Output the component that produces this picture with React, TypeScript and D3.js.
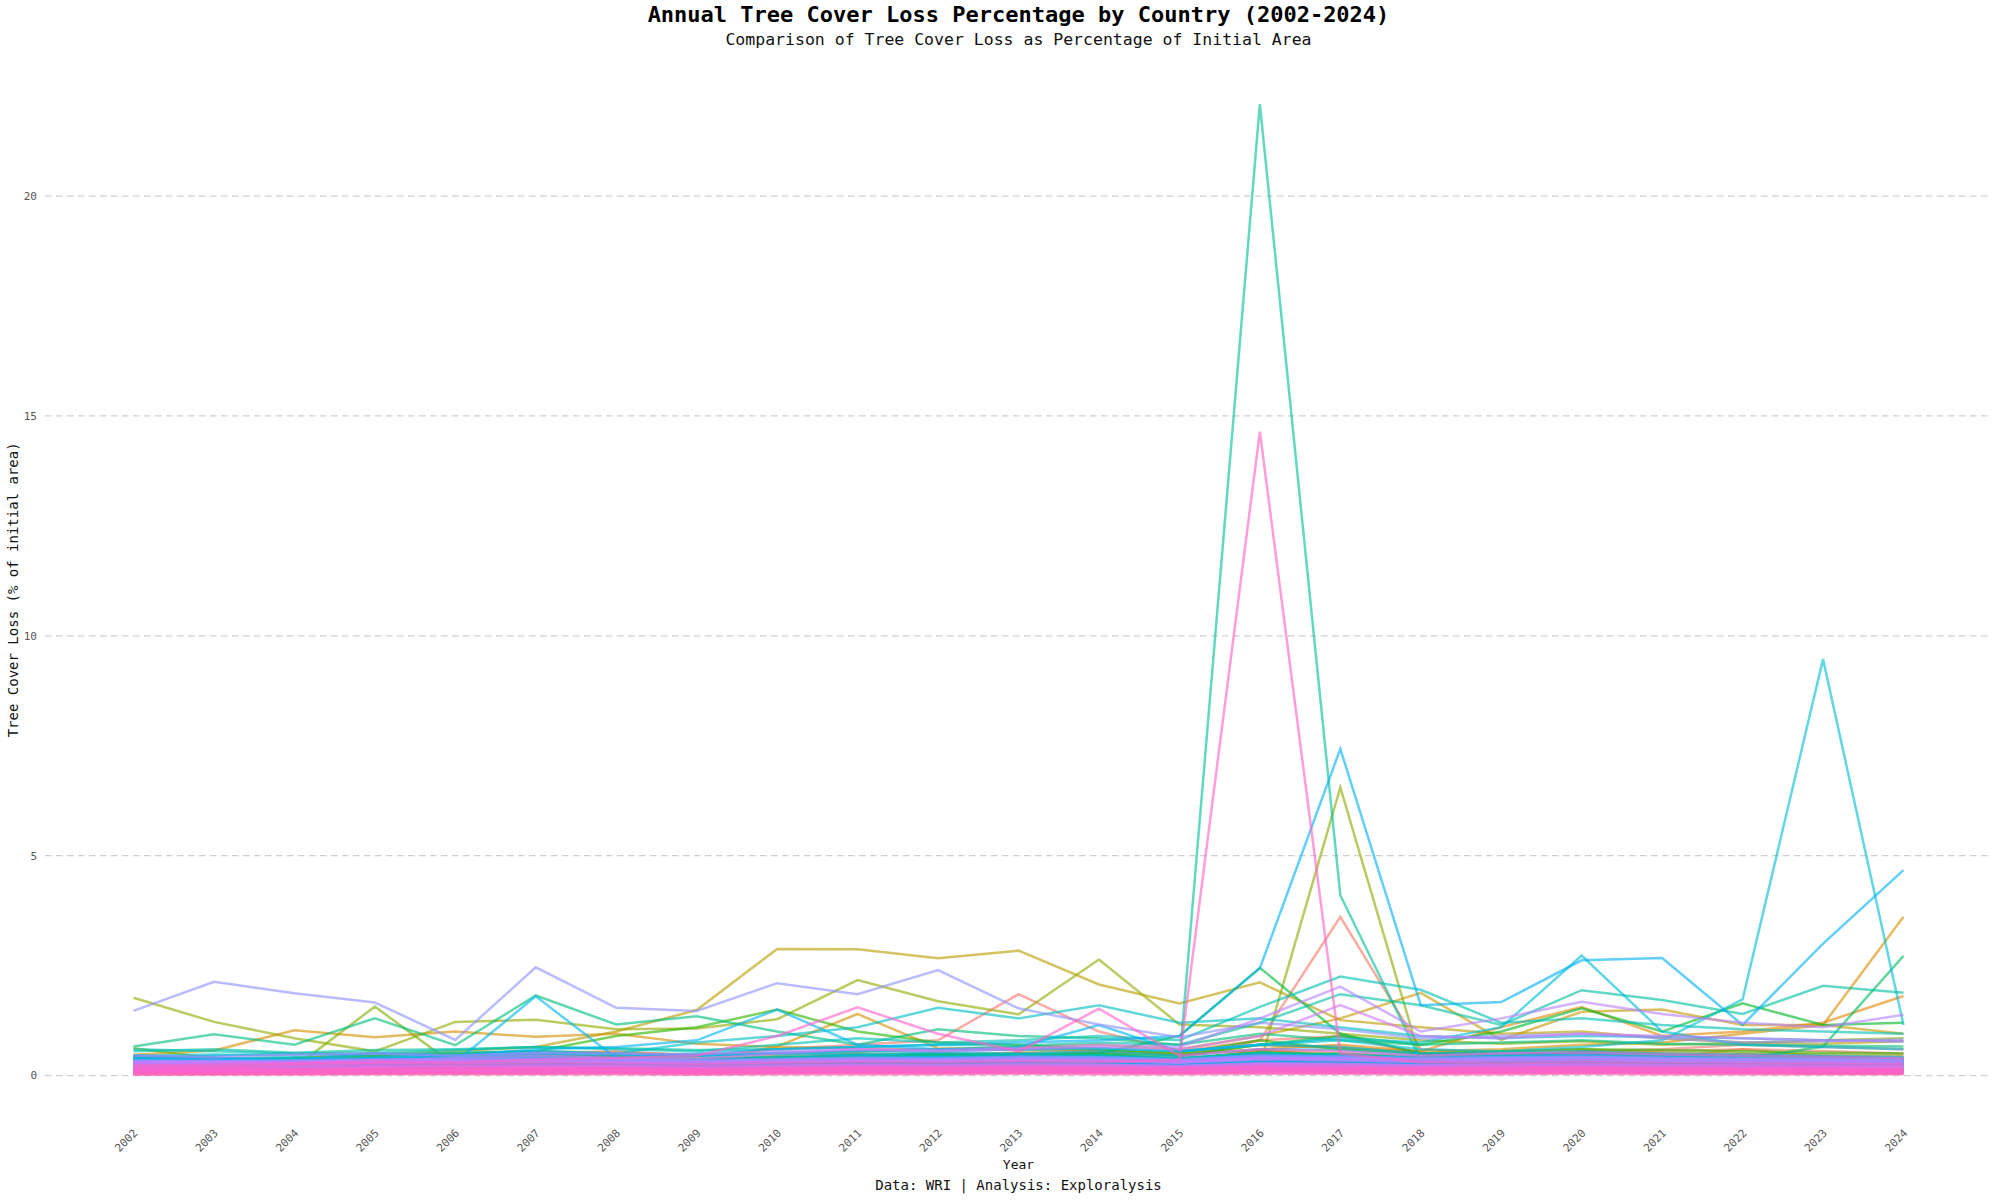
import React from "react";
import * as d3 from "d3";

// ---------------- DATA ----------------
const years: number[] = [
  2002, 2003, 2004, 2005, 2006, 2007, 2008, 2009, 2010, 2011, 2012, 2013,
  2014, 2015, 2016, 2017, 2018, 2019, 2020, 2021, 2022, 2023, 2024,
];

const yTicks: number[] = [0, 5, 10, 15, 20];

// Annual tree cover loss (% of initial area), one row per country, 2002..2024
const lossSeries: number[][] = [
  [0.32,0.28,0.35,0.38,0.42,0.5,0.55,0.45,0.6,0.7,0.8,1.85,1.0,0.55,0.8,0.9,0.5,0.45,0.55,0.6,0.7,0.65,0.6],
  [0.2,0.18,0.22,0.28,0.25,0.32,0.36,0.3,0.35,0.4,0.45,0.5,0.45,0.38,0.8,3.61,0.6,0.5,0.52,0.55,0.6,0.56,0.5],
  [0.32,0.26,0.38,0.29,0.44,0.33,0.4,0.3,0.25,0.36,0.42,0.31,0.38,0.27,0.48,0.35,0.29,0.4,0.45,0.34,0.5,0.38,0.32],
  [0.18,0.12,0.2,0.15,0.24,0.17,0.21,0.14,0.19,0.27,0.2,0.25,0.18,0.16,0.3,0.22,0.17,0.24,0.28,0.19,0.23,0.26,0.2],
  [0.22,0.3,0.24,0.35,0.27,0.4,0.45,0.29,0.36,0.5,0.32,0.52,0.42,0.3,0.58,0.44,0.32,0.38,0.55,0.4,0.6,0.44,0.36],
  [0.1,0.08,0.12,0.1,0.14,0.11,0.15,0.09,0.13,0.16,0.12,0.18,0.14,0.1,0.2,0.15,0.12,0.14,0.17,0.12,0.15,0.13,0.11],
  [0.22,0.3,0.25,0.35,0.28,0.4,0.26,0.32,0.24,0.42,0.3,0.46,0.38,0.27,0.5,0.36,0.3,0.4,0.48,0.33,0.37,0.3,0.28],
  [0.3,0.32,0.35,0.38,0.36,0.42,0.46,0.4,0.45,0.5,0.48,0.52,0.55,0.48,0.6,0.7,0.55,1.1,1.56,0.9,1.0,1.2,1.81],
  [0.28,0.22,0.34,0.26,0.38,0.3,0.42,0.27,0.36,0.48,0.33,0.45,0.52,0.35,0.56,0.44,0.34,0.4,0.46,0.38,0.42,0.36,0.32],
  [0.28,0.22,0.33,0.4,0.25,0.3,0.36,0.24,0.21,0.32,0.38,0.27,0.31,0.23,0.42,0.33,0.26,0.31,0.36,0.29,0.25,0.28,0.31],
  [0.07,0.05,0.08,0.1,0.06,0.09,0.11,0.07,0.09,0.12,0.08,0.13,0.1,0.07,0.14,0.11,0.08,0.1,0.12,0.09,0.08,0.07,0.08],
  [0.47,0.57,1.03,0.87,1.0,0.88,0.95,0.72,0.65,0.62,0.58,0.63,0.57,0.52,0.7,0.62,0.55,0.6,0.7,0.75,0.95,1.15,3.61],
  [0.25,0.28,0.3,0.32,0.35,0.3,0.28,0.32,0.66,1.4,0.62,0.6,0.55,0.45,0.7,0.65,0.5,0.55,0.6,0.52,0.5,0.48,0.45],
  [0.2,0.26,0.18,0.3,0.24,0.28,0.34,0.22,0.27,0.36,0.3,0.4,0.33,0.25,0.44,0.38,0.28,0.33,0.4,0.32,0.29,0.27,0.25],
  [0.38,0.31,0.36,0.44,0.34,0.48,0.42,0.33,0.39,0.45,0.52,0.4,0.47,0.36,0.56,0.5,0.4,0.44,0.48,0.42,0.38,0.42,0.36],
  [0.35,0.32,0.4,0.45,0.5,0.55,0.52,0.48,0.5,0.55,0.6,0.65,0.7,0.6,0.9,1.3,1.88,0.81,1.45,1.5,1.15,1.15,0.95],
  [0.25,0.3,0.22,0.27,0.33,0.28,0.24,0.3,0.26,0.35,0.29,0.38,0.32,0.26,0.4,0.34,0.28,0.31,0.36,0.3,0.27,0.29,0.26],
  [0.3,0.35,0.4,0.48,0.55,0.65,1.0,1.49,2.88,2.87,2.67,2.84,2.07,1.64,2.12,1.26,1.1,0.95,1.0,0.85,0.75,0.72,0.78],
  [0.36,0.3,0.4,0.34,0.45,0.38,0.44,0.33,0.39,0.46,0.41,0.5,0.43,0.36,0.54,0.47,0.38,0.44,0.49,0.4,0.37,0.42,0.38],
  [0.14,0.11,0.16,0.13,0.18,0.15,0.2,0.13,0.16,0.21,0.17,0.22,0.19,0.14,0.24,0.2,0.15,0.18,0.22,0.16,0.18,0.15,0.14],
  [0.18,0.24,0.2,0.28,0.22,0.32,0.38,0.26,0.34,0.4,0.36,0.46,0.4,0.3,0.52,0.44,0.34,0.4,0.47,0.38,0.35,0.4,0.36],
  [0.42,0.36,0.32,0.28,0.37,0.34,0.4,0.31,0.28,0.36,0.39,0.33,0.37,0.3,0.44,0.37,0.32,0.36,0.4,0.34,0.31,0.33,0.3],
  [0.09,0.12,0.1,0.13,0.11,0.14,0.16,0.12,0.14,0.17,0.13,0.18,0.15,0.12,0.2,0.16,0.13,0.15,0.18,0.14,0.13,0.12,0.12],
  [0.3,0.25,0.33,0.28,0.36,0.3,0.34,0.27,0.32,0.38,0.35,0.42,0.37,0.3,0.46,0.4,0.32,0.37,0.42,0.35,0.33,0.3,0.29],
  [1.77,1.22,0.85,0.55,1.22,1.27,1.05,1.07,1.28,2.17,1.69,1.39,2.64,1.16,1.1,0.95,0.8,0.72,0.78,0.7,0.74,0.8,0.85],
  [0.22,0.2,0.25,0.28,0.26,0.3,0.32,0.28,0.3,0.34,0.32,0.36,0.35,0.3,0.25,6.55,0.35,0.35,0.38,0.36,0.34,0.33,0.32],
  [0.05,0.04,0.06,0.07,0.05,0.08,0.07,0.05,0.07,0.09,0.07,0.1,0.08,0.06,0.11,0.09,0.07,0.08,0.1,0.08,0.07,0.06,0.06],
  [0.62,0.4,0.18,1.57,0.22,0.3,0.35,0.32,0.35,0.38,0.42,0.4,0.45,0.38,0.5,0.45,0.4,0.38,0.42,0.4,0.36,0.34,0.32],
  [0.27,0.33,0.25,0.31,0.36,0.28,0.25,0.34,0.37,0.3,0.27,0.36,0.4,0.3,0.44,0.36,0.29,0.34,0.4,0.33,0.28,0.31,0.3],
  [0.2,0.16,0.24,0.19,0.26,0.22,0.27,0.2,0.25,0.3,0.26,0.32,0.28,0.22,0.36,0.3,0.24,0.28,0.32,0.26,0.24,0.22,0.21],
  [0.32,0.36,0.28,0.34,0.4,0.35,0.3,0.37,0.42,0.38,0.33,0.44,0.4,0.32,0.48,0.42,0.34,0.39,0.45,0.37,0.34,0.36,0.33],
  [0.12,0.1,0.13,0.11,0.14,0.12,0.16,0.11,0.14,0.17,0.13,0.18,0.15,0.12,0.2,0.16,0.13,0.15,0.18,0.14,0.13,0.14,0.12],
  [0.3,0.34,0.28,0.36,0.32,0.3,0.34,0.28,0.33,0.37,0.4,0.33,0.36,0.3,0.44,0.39,0.32,0.36,0.41,0.34,0.31,0.34,0.3],
  [0.4,0.35,0.38,0.45,0.5,0.55,0.9,1.1,1.5,1.0,0.75,0.7,0.6,0.5,0.8,0.6,0.5,0.55,0.6,0.58,0.55,0.52,0.5],
  [0.26,0.22,0.28,0.24,0.3,0.26,0.31,0.24,0.28,0.33,0.3,0.35,0.32,0.26,0.38,0.34,0.28,0.32,0.36,0.3,0.28,0.27,0.26],
  [0.3,0.28,0.32,0.35,0.38,0.4,0.36,0.35,0.4,0.42,0.45,0.48,0.5,0.45,0.7,0.9,0.7,1.0,1.53,1.0,1.64,1.15,1.2],
  [0.25,0.28,0.3,0.32,0.35,0.4,0.38,0.35,0.4,0.45,0.5,0.48,0.5,0.9,2.45,0.95,0.5,0.45,0.52,0.48,0.45,0.42,0.4],
  [0.08,0.1,0.07,0.1,0.09,0.11,0.1,0.08,0.11,0.12,0.1,0.13,0.11,0.09,0.14,0.12,0.1,0.11,0.13,0.1,0.09,0.1,0.09],
  [0.45,0.4,0.36,0.34,0.42,0.43,0.37,0.36,0.4,0.43,0.48,0.42,0.45,0.39,0.52,0.46,0.4,0.42,0.46,0.43,0.39,0.37,0.36],
  [0.24,0.28,0.22,0.26,0.3,0.32,0.27,0.24,0.3,0.33,0.29,0.35,0.33,0.27,0.38,0.34,0.3,0.33,0.36,0.31,0.3,0.28,0.27],
  [0.3,0.26,0.28,0.32,0.3,0.35,0.34,0.32,0.35,0.38,0.4,0.42,0.4,0.36,0.45,0.5,0.4,0.42,0.45,0.4,0.38,0.66,2.72],
  [0.35,0.4,0.32,0.38,0.42,0.36,0.4,0.34,0.4,0.44,0.46,0.42,0.47,0.38,0.52,0.46,0.4,0.44,0.48,0.42,0.38,0.41,0.38],
  [0.15,0.17,0.14,0.18,0.16,0.2,0.18,0.15,0.18,0.21,0.19,0.22,0.2,0.17,0.24,0.21,0.18,0.2,0.22,0.19,0.18,0.17,0.16],
  [0.66,0.94,0.7,1.3,0.69,1.82,1.16,1.35,1.0,0.7,1.05,0.9,0.85,0.7,0.95,0.8,0.7,0.75,0.8,0.72,0.7,0.68,0.66],
  [0.34,0.37,0.4,0.33,0.39,0.42,0.36,0.34,0.39,0.43,0.39,0.45,0.42,0.36,0.48,0.43,0.37,0.39,0.43,0.39,0.36,0.34,0.33],
  [0.18,0.21,0.19,0.23,0.2,0.25,0.22,0.19,0.24,0.27,0.24,0.28,0.26,0.22,0.31,0.28,0.24,0.26,0.28,0.25,0.24,0.23,0.22],
  [0.28,0.25,0.31,0.27,0.33,0.34,0.3,0.27,0.31,0.34,0.36,0.37,0.33,0.3,0.4,0.36,0.31,0.33,0.37,0.33,0.3,0.29,0.28],
  [0.3,0.26,0.3,0.34,0.31,0.38,0.35,0.3,0.34,0.38,0.35,0.4,0.36,0.3,22.09,4.1,0.35,0.32,0.36,0.3,0.34,0.31,0.33],
  [0.55,0.6,0.52,0.58,0.6,0.65,0.62,0.58,0.6,0.65,0.7,0.68,0.75,0.7,1.2,1.85,1.6,1.15,1.94,1.72,1.4,2.04,1.88],
  [0.3,0.27,0.32,0.34,0.35,0.38,0.33,0.3,0.35,0.38,0.36,0.4,0.38,0.33,0.43,0.38,0.34,0.37,0.41,0.36,0.34,0.33,0.32],
  [0.1,0.12,0.11,0.13,0.12,0.14,0.15,0.12,0.14,0.16,0.14,0.17,0.15,0.13,0.18,0.17,0.14,0.16,0.17,0.15,0.14,0.13,0.13],
  [0.6,0.55,0.5,0.52,0.58,0.65,0.6,0.55,0.7,0.85,0.75,0.8,0.9,0.8,1.56,2.25,1.95,1.2,1.3,1.15,1.05,1.0,0.95],
  [0.22,0.24,0.27,0.25,0.29,0.31,0.27,0.25,0.3,0.33,0.31,0.35,0.32,0.28,0.37,0.34,0.3,0.33,0.36,0.32,0.3,0.29,0.28],
  [0.28,0.32,0.26,0.33,0.35,0.37,0.33,0.3,0.34,0.37,0.36,0.4,0.38,0.33,0.42,0.4,0.36,0.38,0.41,0.37,0.35,0.34,0.33],
  [0.4,0.45,0.5,0.48,0.52,0.55,0.5,0.75,0.9,1.1,1.54,1.3,1.6,1.2,1.3,1.1,0.9,0.85,0.9,0.88,0.85,0.8,0.78],
  [0.36,0.34,0.4,0.37,0.42,0.45,0.4,0.38,0.43,0.47,0.44,0.48,0.46,0.4,0.52,0.48,0.43,0.46,0.5,0.45,0.42,0.4,0.39],
  [0.35,0.4,0.38,0.42,0.45,0.5,0.48,0.45,0.5,0.55,0.6,0.58,0.62,0.55,0.7,0.8,0.6,0.55,0.65,0.8,1.73,9.47,1.15],
  [0.45,0.48,0.44,0.5,0.45,0.55,0.5,0.45,0.52,0.56,0.55,0.6,0.62,0.55,0.7,0.85,0.75,1.1,2.73,1.0,0.7,0.65,0.6],
  [0.13,0.14,0.12,0.15,0.16,0.17,0.15,0.13,0.15,0.18,0.16,0.19,0.17,0.15,0.21,0.18,0.16,0.17,0.19,0.16,0.15,0.15,0.14],
  [0.32,0.3,0.35,0.37,0.35,0.39,0.37,0.34,0.37,0.4,0.42,0.4,0.43,0.37,0.47,0.43,0.39,0.42,0.45,0.4,0.38,0.37,0.36],
  [0.22,0.21,0.24,0.26,0.25,0.27,0.26,0.24,0.27,0.29,0.28,0.31,0.3,0.26,0.33,0.3,0.27,0.29,0.31,0.28,0.27,0.26,0.25],
  [0.36,0.33,0.3,0.34,0.37,0.4,0.34,0.32,0.37,0.4,0.42,0.43,0.41,0.36,0.46,0.43,0.39,0.4,0.43,0.39,0.37,0.36,0.34],
  [0.35,0.32,0.3,0.4,0.3,1.8,0.4,0.45,0.5,0.48,0.52,0.5,0.55,0.45,0.6,0.58,0.45,0.48,0.5,0.46,0.44,0.42,0.4],
  [0.45,0.4,0.35,0.5,0.45,0.6,0.65,0.8,1.5,0.7,0.6,0.65,1.15,0.55,0.7,0.65,0.5,0.52,0.55,0.5,0.48,0.45,0.42],
  [0.4,0.35,0.32,0.4,0.45,0.5,0.45,0.5,0.6,0.65,0.7,0.75,0.8,0.9,2.44,7.43,1.6,1.67,2.62,2.67,1.15,3.0,4.67],
  [0.16,0.17,0.15,0.18,0.19,0.21,0.2,0.18,0.2,0.22,0.21,0.23,0.22,0.19,0.25,0.23,0.21,0.22,0.24,0.21,0.2,0.19,0.19],
  [0.29,0.27,0.3,0.32,0.31,0.34,0.33,0.3,0.32,0.35,0.37,0.36,0.38,0.33,0.41,0.38,0.35,0.37,0.4,0.36,0.34,0.33,0.32],
  [0.09,0.08,0.1,0.11,0.1,0.12,0.11,0.1,0.12,0.13,0.12,0.14,0.13,0.11,0.15,0.13,0.12,0.13,0.14,0.12,0.11,0.11,0.1],
  [0.3,0.32,0.29,0.31,0.34,0.35,0.33,0.3,0.34,0.37,0.36,0.38,0.38,0.34,0.42,0.4,0.36,0.38,0.4,0.37,0.35,0.34,0.33],
  [0.2,0.21,0.19,0.22,0.24,0.25,0.24,0.22,0.25,0.27,0.26,0.29,0.28,0.24,0.31,0.29,0.26,0.27,0.29,0.26,0.25,0.24,0.24],
  [0.26,0.29,0.31,0.28,0.32,0.34,0.31,0.29,0.33,0.36,0.34,0.38,0.36,0.32,0.4,0.38,0.34,0.36,0.39,0.35,0.33,0.32,0.31],
  [0.06,0.07,0.08,0.07,0.09,0.1,0.09,0.08,0.1,0.11,0.1,0.12,0.11,0.09,0.13,0.12,0.1,0.11,0.12,0.1,0.09,0.09,0.08],
  [0.34,0.36,0.32,0.35,0.38,0.4,0.37,0.34,0.38,0.41,0.4,0.43,0.42,0.37,0.46,0.44,0.4,0.42,0.45,0.41,0.39,0.38,0.37],
  [0.15,0.14,0.16,0.17,0.18,0.19,0.18,0.16,0.18,0.2,0.19,0.21,0.2,0.18,0.23,0.21,0.19,0.2,0.21,0.19,0.18,0.18,0.17],
  [0.25,0.27,0.26,0.29,0.28,0.31,0.3,0.27,0.3,0.33,0.32,0.34,0.33,0.29,0.37,0.34,0.31,0.33,0.34,0.32,0.3,0.29,0.28],
  [1.47,2.13,1.87,1.66,0.81,2.46,1.54,1.47,2.1,1.85,2.4,1.53,1.16,0.87,1.2,1.05,0.85,0.9,0.95,0.85,0.75,0.78,0.82],
  [0.34,0.32,0.35,0.37,0.36,0.38,0.38,0.34,0.37,0.4,0.39,0.42,0.41,0.36,0.45,0.42,0.39,0.41,0.42,0.4,0.38,0.37,0.36],
  [0.11,0.1,0.12,0.13,0.12,0.14,0.13,0.12,0.14,0.15,0.14,0.16,0.15,0.13,0.17,0.16,0.14,0.15,0.16,0.14,0.13,0.13,0.12],
  [0.31,0.33,0.29,0.32,0.34,0.36,0.35,0.32,0.35,0.38,0.37,0.39,0.38,0.34,0.42,0.4,0.37,0.39,0.41,0.38,0.36,0.35,0.34],
  [0.45,0.42,0.48,0.5,0.45,0.52,0.5,0.48,0.55,0.6,0.58,0.62,0.7,0.65,1.3,2.02,1.0,1.3,1.68,1.4,1.2,1.1,1.38],
  [0.19,0.18,0.2,0.22,0.21,0.23,0.22,0.2,0.23,0.25,0.24,0.26,0.25,0.22,0.28,0.26,0.24,0.25,0.26,0.24,0.23,0.22,0.22],
  [0.3,0.31,0.28,0.3,0.33,0.34,0.32,0.3,0.33,0.35,0.34,0.37,0.36,0.32,0.4,0.38,0.35,0.37,0.38,0.36,0.34,0.33,0.32],
  [0.3,0.28,0.32,0.35,0.4,0.45,0.4,0.38,0.5,0.6,0.55,0.6,0.65,0.6,0.9,1.6,0.9,0.85,0.95,0.9,0.85,0.8,0.78],
  [0.14,0.13,0.15,0.16,0.15,0.17,0.16,0.15,0.17,0.18,0.17,0.19,0.18,0.16,0.21,0.19,0.17,0.18,0.19,0.17,0.16,0.16,0.15],
  [0.26,0.24,0.27,0.29,0.28,0.31,0.3,0.27,0.3,0.33,0.32,0.34,0.33,0.29,0.37,0.35,0.31,0.33,0.34,0.32,0.3,0.29,0.28],
  [0.1,0.11,0.1,0.12,0.11,0.13,0.12,0.11,0.12,0.14,0.13,0.14,0.13,0.12,0.15,0.14,0.12,0.13,0.14,0.12,0.12,0.11,0.11],
  [0.2,0.19,0.21,0.22,0.21,0.23,0.22,0.2,0.22,0.24,0.23,0.25,0.24,0.21,0.27,0.26,0.23,0.24,0.25,0.23,0.22,0.21,0.21],
  [0.06,0.07,0.06,0.08,0.07,0.09,0.08,0.07,0.08,0.09,0.09,0.1,0.09,0.08,0.11,0.1,0.09,0.09,0.1,0.09,0.08,0.08,0.08],
  [0.14,0.13,0.15,0.16,0.15,0.17,0.16,0.14,0.16,0.18,0.17,0.19,0.18,0.16,0.2,0.19,0.17,0.18,0.19,0.17,0.16,0.16,0.15],
  [0.04,0.05,0.04,0.05,0.06,0.05,0.06,0.05,0.06,0.07,0.06,0.07,0.07,0.06,0.08,0.07,0.06,0.07,0.07,0.06,0.06,0.06,0.05],
  [0.12,0.13,0.12,0.14,0.13,0.15,0.14,0.12,0.14,0.16,0.15,0.16,0.15,0.13,0.17,0.16,0.14,0.15,0.16,0.14,0.14,0.13,0.13],
  [0.08,0.07,0.08,0.09,0.08,0.1,0.09,0.08,0.09,0.11,0.1,0.11,0.1,0.09,0.12,0.11,0.1,0.1,0.11,0.1,0.09,0.09,0.09],
  [0.17,0.18,0.16,0.19,0.18,0.2,0.19,0.17,0.19,0.21,0.2,0.21,0.2,0.18,0.23,0.22,0.19,0.2,0.21,0.19,0.18,0.18,0.17],
  [0.03,0.04,0.03,0.04,0.05,0.04,0.05,0.04,0.05,0.05,0.05,0.06,0.05,0.05,0.06,0.06,0.05,0.05,0.06,0.05,0.05,0.04,0.04],
  [0.1,0.1,0.11,0.12,0.11,0.12,0.12,0.1,0.12,0.13,0.12,0.13,0.13,0.11,0.14,0.13,0.12,0.12,0.13,0.12,0.11,0.11,0.11],
  [0.22,0.25,0.28,0.32,0.3,0.36,0.4,0.45,0.9,1.55,0.95,0.55,1.52,0.45,0.6,0.55,0.45,0.5,0.52,0.48,0.45,0.42,0.4],
  [0.22,0.2,0.24,0.26,0.25,0.28,0.27,0.25,0.28,0.3,0.29,0.32,0.31,0.35,14.64,0.5,0.3,0.28,0.3,0.28,0.27,0.26,0.25],
  [0.06,0.06,0.07,0.07,0.07,0.08,0.07,0.07,0.08,0.08,0.08,0.09,0.08,0.07,0.09,0.09,0.08,0.08,0.09,0.08,0.07,0.07,0.07],
  [0.14,0.15,0.14,0.15,0.16,0.15,0.16,0.14,0.15,0.17,0.16,0.17,0.16,0.15,0.18,0.17,0.16,0.16,0.17,0.16,0.15,0.15,0.14],
  [0.02,0.02,0.03,0.03,0.03,0.03,0.03,0.02,0.03,0.03,0.03,0.04,0.03,0.03,0.04,0.04,0.03,0.03,0.04,0.03,0.03,0.03,0.03],
];

const titleText = "Annual Tree Cover Loss Percentage by Country (2002-2024)";
const subtitleText = "Comparison of Tree Cover Loss as Percentage of Initial Area";
const xTitle = "Year";
const yTitle = "Tree Cover Loss (% of initial area)";
const captionText = "Data: WRI | Analysis: Exploralysis";

// ---------------- STYLE ----------------
const W = 2000;
const H = 1200;
const panel = { left: 45, right: 1992, top: 55.6, bottom: 1124.1 };
const FONT = "'DejaVu Sans Mono', 'Liberation Mono', monospace";

// ggplot-style hue palette (polar LUV -> sRGB)
function hclLuv(h: number, c: number, l: number): string {
  const hr = (h * Math.PI) / 180;
  const U = c * Math.cos(hr);
  const V = c * Math.sin(hr);
  const Xn = 95.047, Yn = 100, Zn = 108.883;
  const den = Xn + 15 * Yn + 3 * Zn;
  const un = (4 * Xn) / den;
  const vn = (9 * Yn) / den;
  const Y = l > 8 ? Yn * Math.pow((l + 16) / 116, 3) : (Yn * l) / 903.3;
  const up = U / (13 * l) + un;
  const vp = V / (13 * l) + vn;
  const X = (Y * 9 * up) / (4 * vp);
  const Z = (Y * (12 - 3 * up - 20 * vp)) / (4 * vp);
  const x = X / 100, y = Y / 100, z = Z / 100;
  const lin = [
    3.2404542 * x - 1.5371385 * y - 0.4985314 * z,
    -0.969266 * x + 1.8760108 * y + 0.041556 * z,
    0.0556434 * x - 0.2040259 * y + 1.0572252 * z,
  ];
  const g = lin.map((v) => {
    const s = v <= 0.0031308 ? 12.92 * v : 1.055 * Math.pow(v, 1 / 2.4) - 0.055;
    return Math.round(Math.max(0, Math.min(1, s)) * 255);
  });
  return d3.rgb(g[0], g[1], g[2]).formatHex();
}

export default function App() {
  const n = lossSeries.length;
  const maxV = d3.max(lossSeries, (s) => d3.max(s)) as number;
  const minV = 0;
  const pad = (maxV - minV) * 0.05;
  const span = years[years.length - 1] - years[0];

  const x = d3
    .scaleLinear()
    .domain([years[0] - span * 0.05, years[years.length - 1] + span * 0.05])
    .range([panel.left, panel.right]);
  const y = d3
    .scaleLinear()
    .domain([minV - pad, maxV + pad])
    .range([panel.bottom, panel.top]);

  const color = (i: number) => hclLuv(15 + (330 * i) / (n - 1), 100, 65);

  const line = d3
    .line<number>()
    .x((_, i) => x(years[i]))
    .y((d) => y(d));

  const cx = (panel.left + panel.right) / 2;
  const cy = (panel.top + panel.bottom) / 2;

  return (
    <svg
      width={W}
      height={H}
      viewBox={`0 0 ${W} ${H}`}
      style={{ position: "absolute", left: 0, top: 0, background: "#fff" }}
      fontFamily={FONT}
    >
      <rect x={0} y={0} width={W} height={H} fill="#ffffff" />
      {yTicks.map((t) => (
        <line
          key={"g" + t}
          x1={panel.left}
          x2={panel.right}
          y1={y(t)}
          y2={y(t)}
          stroke="#cfcfcf"
          strokeWidth={1.3}
          strokeDasharray="6.5,4.5"
        />
      ))}
      <g fill="none" strokeWidth={2.5} strokeOpacity={0.62} strokeLinejoin="miter" strokeLinecap="butt">
        {lossSeries.map((s, i) => (
          <path key={"s" + i} d={line(s) || ""} stroke={color(i)} />
        ))}
      </g>
      {yTicks.map((t) => (
        <text
          key={"yt" + t}
          x={panel.left - 8}
          y={y(t)}
          dy="0.35em"
          textAnchor="end"
          fontSize={11}
          fill="#555"
        >
          {t}
        </text>
      ))}
      {years.map((yr) => (
        <text
          key={"xt" + yr}
          transform={`translate(${x(yr) + 2},${1131}) rotate(-45)`}
          textAnchor="end"
          fontSize={11}
          fill="#555"
          dy="0.35em"
        >
          {yr}
        </text>
      ))}
      <text x={cx} y={22} textAnchor="middle" fontSize={22} fontWeight="bold" fill="#000">
        {titleText}
      </text>
      <text x={cx} y={45} textAnchor="middle" fontSize={16.5} fill="#111">
        {subtitleText}
      </text>
      <text x={cx} y={1169} textAnchor="middle" fontSize={13} fill="#111">
        {xTitle}
      </text>
      <text
        transform={`translate(18,${cy}) rotate(-90)`}
        textAnchor="middle"
        fontSize={14}
        fill="#111"
      >
        {yTitle}
      </text>
      <text x={cx} y={1190} textAnchor="middle" fontSize={14} fill="#111">
        {captionText}
      </text>
    </svg>
  );
}
